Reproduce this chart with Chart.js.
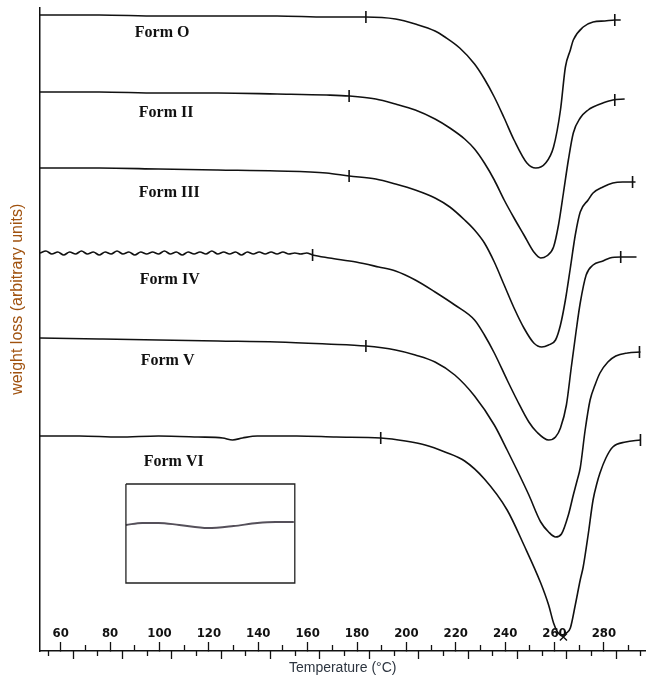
<!DOCTYPE html>
<html><head><meta charset="utf-8">
<script src="https://cdn.jsdelivr.net/npm/chart.js@4"></script>
<style>html,body{margin:0;padding:0;background:#fff}#wrap{width:653px;height:685px;position:relative}</style>
</head><body><div id="wrap"><canvas id="c"></canvas></div>
<script>
// ---- data (temperature in °C, weight-loss signal in arbitrary units) ----
const formNames = ['Form O', 'Form II', 'Form III', 'Form IV', 'Form V', 'Form VI'];

const tempO = [51.6, 75.6, 99.6, 123.6, 147.6, 167.6, 183.6, 195.6, 203.6, 211.6, 215.6, 221.6, 227.6, 231.6, 235.6, 239.6, 243.6, 248.8, 252.4, 256.4, 259.6, 262.4, 264.4, 266.4, 267.6, 271.6, 275.6, 280.4, 284.4, 286.8];
const valO  = [636, 636, 635, 635, 635, 634, 634, 632, 627, 620, 614, 603, 587, 572, 554, 533, 511, 488, 483, 488, 504, 541, 584, 601, 611, 624, 629, 630, 631, 631];

const tempII = [51.6, 75.6, 99.6, 123.6, 147.6, 167.6, 176.8, 187.6, 195.6, 203.6, 211.6, 217.6, 223.6, 227.6, 231.6, 235.6, 239.6, 243.6, 247.6, 251.6, 254.4, 256.8, 259.6, 261.6, 263.6, 265.6, 267.6, 270.4, 273.6, 275.6, 279.6, 283.6, 288.4];
const valII  = [559, 559, 558, 558, 557, 556, 555, 552, 547, 541, 532, 523, 512, 502, 488, 471, 451, 433, 416, 399, 393, 395, 404, 426, 458, 491, 518, 533, 541, 544, 548, 551, 552];

const tempIII = [51.6, 75.6, 99.6, 123.6, 147.6, 167.6, 176.8, 187.6, 195.6, 203.6, 211.6, 217.6, 223.6, 227.6, 231.6, 235.6, 239.6, 243.6, 247.6, 251.6, 254.8, 257.6, 260.4, 262.4, 264.4, 266.4, 268.4, 270.4, 273.6, 275.6, 279.6, 283.6, 287.6, 292.8];
const valIII  = [483, 483, 482, 481, 480, 478, 475, 472, 467, 461, 453, 444, 431, 421, 408, 389, 366, 343, 323, 308, 304, 306, 311, 326, 351, 383, 416, 439, 451, 458, 464, 468, 469, 469];

const tempIV = [51.6, 54, 56.4, 58.8, 61.2, 63.6, 66, 68.4, 70.8, 73.2, 75.6, 78, 80.4, 82.8, 85.2, 87.6, 90, 92.4, 94.8, 97.2, 99.6, 102, 104.4, 106.8, 109.2, 111.6, 114, 116.4, 118.8, 121.2, 123.6, 126, 128.4, 130.8, 133.2, 135.6, 138, 140.4, 142.8, 145.2, 147.6, 150, 152.4, 154.8, 157.2, 159.6, 162,
  168.8, 179.6, 188.8, 195.6, 203.6, 211.6, 219.6, 227.6, 231.6, 235.6, 240.8, 244.8, 249.6, 252.8, 257.6, 260.4, 262.4, 264.8, 266.8, 268.8, 270.4, 272.8, 275.6, 279.6, 282.4, 286.8, 293.2];
const valIV  = [398, 400, 397, 399, 396, 399, 397, 400, 397, 399, 396, 399, 397, 400, 397, 399, 396, 399, 397, 399, 397, 400, 397, 399, 396, 399, 397, 399, 397, 400, 397, 399, 397, 399, 396, 399, 397, 399, 397, 399, 397, 399, 397, 398, 397, 398, 396,
  393, 389, 384, 380, 371, 359, 346, 331, 316, 298, 271, 251, 229, 219, 211, 214, 223, 246, 284, 321, 348, 376, 386, 390, 393, 394, 394];

const tempV = [51.6, 75.6, 99.6, 123.6, 147.6, 167.6, 183.6, 195.6, 203.6, 211.6, 219.6, 227.6, 235.6, 240.8, 244.8, 249.6, 254.4, 257.6, 260.4, 262.8, 265.6, 267.6, 269.2, 270.4, 272.4, 274.4, 276.4, 278.4, 281.6, 284.8, 289.6, 294.8];
const valV  = [313, 312, 311, 310, 309, 307, 305, 301, 296, 289, 276, 255, 226, 201, 181, 156, 129, 119, 114, 117, 136, 156, 171, 183, 221, 251, 266, 278, 289, 295, 298, 299];

const tempVI = [51.6, 67.6, 83.6, 99.6, 115.6, 125.6, 129.6, 133.6, 139.6, 155.6, 171.6, 189.6, 199.6, 207.6, 215.6, 223.6, 231.6, 240.8, 247.6, 254.4, 257.6, 259.6, 261.2, 262.8, 264.8, 266.4, 268.4, 270.4, 271.6, 273.6, 275.6, 277.2, 278.4, 280.8, 283.6, 288.8, 294.8];
const valVI  = [215, 215, 214, 215, 214, 213, 211, 213, 215, 215, 214, 213, 210, 206, 199, 190, 172, 141, 106, 68, 46, 28, 19, 16, 18, 23, 46, 71, 84, 116, 151, 168, 178, 193, 204, 209, 211];

// onset / end markers
const markerTemps  = [183.6, 284.4, 176.8, 284.4, 176.8, 291.6, 162, 286.8, 183.6, 294.4, 189.6, 294.8];
const markerValues = [634, 631, 555, 551, 475, 469, 396, 394, 305, 299, 213, 211];
const peakMarkTemps = [263.6];
const peakMarkValues = [14];

// inset panel
const insetBoxTemps  = [86.4, 154.8, 154.8, 86.4, 86.4];
const insetBoxValues = [167, 167, 68, 68, 167];
const insetTraceTemps  = [86.4, 93, 99.6, 108, 119.6, 130, 139.6, 147, 154.4];
const insetTraceValues = [126, 128, 128, 126, 123, 125, 128, 129, 129];

// axis ticks
const tickLabels = [60, 80, 100, 120, 140, 160, 180, 200, 220, 240, 260, 280];
const minorUpTicks = [70, 90, 110, 130, 150, 170, 190, 210, 230, 250, 270, 290];
const downShortTicks = [55, 75, 95, 115, 135, 155, 175, 195, 215, 235, 255, 275, 295];
const downLongTicks = [65, 85, 105, 125, 145, 165, 185, 205, 225, 245, 265, 285];

// ---- chart ----
const INK = '#111';
const curves = [[tempO, valO], [tempII, valII], [tempIII, valIII], [tempIV, valIV], [tempV, valV], [tempVI, valVI]];
const pts = (t, v) => t.map((x, i) => ({x: x, y: v[i]}));

const datasets = curves.map((c, i) => ({
  label: formNames[i], data: pts(c[0], c[1]), borderColor: INK, borderWidth: 1.6,
  pointRadius: 0, cubicInterpolationMode: 'monotone', fill: false
}));
datasets.push({label: 'markers', data: pts(markerTemps, markerValues), showLine: false,
  pointStyle: 'line', rotation: 90, pointRadius: 6, borderColor: INK, pointBorderWidth: 1.6, borderWidth: 1.6});
datasets.push({label: 'peak', data: pts(peakMarkTemps, peakMarkValues), showLine: false,
  pointStyle: 'crossRot', pointRadius: 5, borderColor: INK, pointBorderWidth: 1.4});
datasets.push({label: 'insetBox', data: pts(insetBoxTemps, insetBoxValues), borderColor: '#222',
  borderWidth: 1.3, pointRadius: 0, tension: 0, fill: false});
datasets.push({label: 'insetTrace', data: pts(insetTraceTemps, insetTraceValues), borderColor: '#55505a',
  borderWidth: 1.8, pointRadius: 0, cubicInterpolationMode: 'monotone', fill: false});

const labelAnchorT = [90, 91.6, 91.6, 92, 92.4, 93.6];
const labelAnchorV = [618, 538, 458, 371, 290, 189];

const annot = {
  id: 'annot',
  afterDraw(chart) {
    const {ctx, scales: {x, y}, chartArea} = chart;
    ctx.save();
    ctx.font = 'bold 16px "Liberation Serif", "DejaVu Serif", serif';
    ctx.fillStyle = INK; ctx.textBaseline = 'middle'; ctx.textAlign = 'left';
    formNames.forEach((n, i) => ctx.fillText(n, x.getPixelForValue(labelAnchorT[i]), y.getPixelForValue(labelAnchorV[i])));
    ctx.translate(18, chartArea.top + chartArea.height * 0.453);
    ctx.rotate(-Math.PI / 2);
    ctx.textAlign = 'center';
    ctx.font = '16px "Liberation Sans", Arial, sans-serif';
    ctx.fillStyle = '#a0520f';
    ctx.fillText('weight loss (arbitrary units)', 0, 0);
    ctx.restore();
  }
};

function tickAxis(list, len, weight) {
  return {
    type: 'linear', axis: 'x', position: 'bottom', weight: weight, min: 51.6, max: 296.8,
    afterBuildTicks: a => { a.ticks = list.map(v => ({value: v})); },
    afterFit: a => { a.height = 0; },
    grid: {display: true, drawOnChartArea: false, drawTicks: true, tickLength: len, color: INK, tickWidth: 1.3},
    border: {display: false},
    ticks: {display: false, autoSkip: false}
  };
}

new Chart(document.getElementById('c'), {
  type: 'line',
  data: {datasets: datasets},
  options: {
    responsive: true, maintainAspectRatio: false, animation: false,
    parsing: false,
    layout: {padding: {top: 8, left: 0, right: 0, bottom: 0}},
    plugins: {legend: {display: false}, tooltip: {enabled: false}},
    scales: {
      x: {
        type: 'linear', position: 'bottom', weight: 5, min: 51.6, max: 296.8,
        afterBuildTicks: a => { a.ticks = tickLabels.map(v => ({value: v})); },
        afterFit: a => { a.height = 34; },
        grid: {display: true, drawOnChartArea: false, drawTicks: true, tickLength: -9, color: INK, tickWidth: 1.3},
        border: {display: true, color: INK, width: 1.5},
        ticks: {autoSkip: false, maxRotation: 0, mirror: true, padding: 10, color: INK,
          font: {family: "'Liberation Sans Narrow', 'DejaVu Sans Condensed', 'Arial Narrow', 'Liberation Sans', sans-serif", size: 13, weight: 'bold'}},
        title: {display: true, text: 'Temperature (°C)', color: '#2d3540',
          font: {family: "'Liberation Sans', Arial, sans-serif", size: 14}, padding: {top: 0, bottom: 8}}
      },
      xUp: tickAxis(minorUpTicks, -6, 0),
      xDownA: tickAxis(downShortTicks, 5, 0),
      xDownB: tickAxis(downLongTicks, 8, 0),
      y: {
        type: 'linear', position: 'left', min: 0, max: 643,
        afterFit: a => { a.width = 40; },
        grid: {display: false},
        ticks: {display: false},
        border: {display: true, color: INK, width: 1.5}
      }
    }
  },
  plugins: [annot]
});
</script>
</body></html>
